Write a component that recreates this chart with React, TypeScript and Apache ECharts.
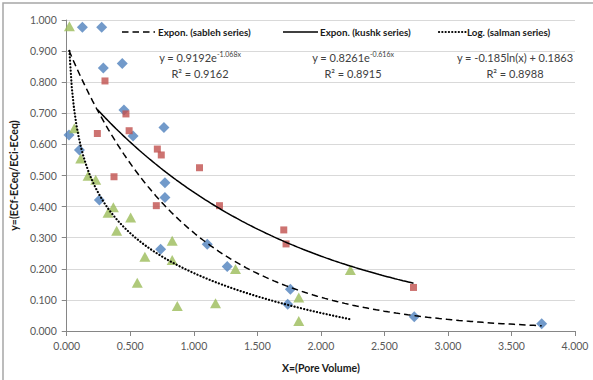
import React, { useEffect, useRef } from "react";
import * as echarts from "echarts";

// sableh series (blue diamonds)
const sablehX = [0.018, 0.1, 0.123, 0.275, 0.288, 0.437, 0.45, 0.522, 0.765, 0.773, 0.773, 0.257, 0.739, 1.106, 1.263, 1.76, 1.739, 2.735, 3.738];
const sablehY = [0.63, 0.582, 0.977, 0.977, 0.846, 0.86, 0.711, 0.627, 0.654, 0.477, 0.429, 0.421, 0.263, 0.279, 0.207, 0.134, 0.086, 0.046, 0.023];

// kushk series (red squares)
const kushkX = [0.241, 0.301, 0.372, 0.466, 0.491, 0.705, 0.713, 0.744, 1.045, 1.202, 1.708, 1.726, 2.729];
const kushkY = [0.635, 0.804, 0.496, 0.698, 0.644, 0.403, 0.585, 0.566, 0.525, 0.403, 0.325, 0.28, 0.14];

// salman series (green triangles)
const salmanX = [0.021, 0.06, 0.11, 0.168, 0.228, 0.325, 0.367, 0.393, 0.503, 0.555, 0.615, 0.83, 0.83, 0.87, 1.171, 1.328, 1.826, 1.826, 2.232];
const salmanY = [0.98, 0.652, 0.555, 0.499, 0.486, 0.38, 0.398, 0.322, 0.365, 0.155, 0.239, 0.29, 0.228, 0.08, 0.089, 0.199, 0.108, 0.032, 0.196];

// trendline coefficients (as printed on the chart)
const sablehFit = { a: 0.9192, b: -1.068 }; // y = a e^(b x)
const kushkFit = { a: 0.8261, b: -0.616 }; // y = a e^(b x)
const salmanFit = { a: -0.185, b: 0.1863 }; // y = a ln(x) + b

const legendNames = ["Expon. (sableh series)", "Expon. (kushk series)", "Log. (salman series)"];
const eqTexts = [
  { main: "y = 0.9192e", sup: "-1.068x", r2: "R² = 0.9162" },
  { main: "y = 0.8261e", sup: "-0.616x", r2: "R² = 0.8915" },
  { main: "y = -0.185ln(x) + 0.1863", sup: "", r2: "R² = 0.8988" },
];

const FONT = "Lato, 'Open Sans', sans-serif";

function curve(xs: number[], f: (x: number) => number) {
  const lo = Math.min(...xs);
  const hi = Math.max(...xs);
  const n = 120;
  const out: number[][] = [];
  for (let i = 0; i <= n; i++) {
    const x = lo + ((hi - lo) * i) / n;
    out.push([x, f(x)]);
  }
  return out;
}

function pairs(xs: number[], ys: number[]) {
  return xs.map((x, i) => [x, ys[i]]);
}

const DASH = [6.5, 4];
const DOT = [0.1, 3.2];

export default function App() {
  const ref = useRef<HTMLDivElement>(null);
  useEffect(() => {
    document.body.style.margin = "0";
    const chart = echarts.init(ref.current!, null, { renderer: "svg" });
    const labelStyle = { color: "#595959", fontSize: 10.5, fontFamily: FONT };
    const eqCenters = [200, 353, 515];
    const graphics: any[] = [
      {
        type: "polyline",
        shape: { points: [[3, 380], [3, 3], [593, 3]] },
        style: { stroke: "#a6a6a6", lineWidth: 1.5, fill: "none" },
        silent: true,
      },
    ];
    // legend drawn as line samples + real text
    const legendItems = [
      { x1: 122, x2: 155, dash: DASH, width: 1.5, cap: "butt", tx: 158 },
      { x1: 283, x2: 318, dash: null, width: 1.5, cap: "butt", tx: 320 },
      { x1: 439, x2: 466, dash: DOT, width: 2.2, cap: "round", tx: 467 },
    ];
    legendItems.forEach((it, i) => {
      graphics.push({
        type: "line",
        shape: { x1: it.x1, y1: 32, x2: it.x2, y2: 32 },
        style: { stroke: "#000", lineWidth: it.width, lineDash: it.dash || undefined, lineCap: it.cap },
        silent: true,
        z: 100,
      });
      graphics.push({
        type: "text",
        x: it.tx,
        y: 32,
        style: {
          text: legendNames[i],
          align: "left",
          verticalAlign: "middle",
          fontSize: 9.8,
          fontWeight: "bold",
          fontFamily: FONT,
          fill: "#1a1a1a",
        },
        z: 100,
      });
    });
    eqTexts.forEach((t, i) => {
      graphics.push({
        type: "text",
        x: eqCenters[i],
        y: 57,
        style: {
          text: t.sup ? `{a|${t.main}}{s|${t.sup}}` : `{a|${t.main}}`,
          align: "center",
          verticalAlign: "middle",
          rich: {
            a: { fontSize: 11, fontFamily: FONT, fill: "#404040", lineHeight: 14 },
            s: { fontSize: 7, fontFamily: FONT, fill: "#404040", verticalAlign: "top", lineHeight: 14 },
          },
        },
        z: 100,
      });
      graphics.push({
        type: "text",
        x: eqCenters[i],
        y: 73,
        style: {
          text: t.r2,
          align: "center",
          verticalAlign: "middle",
          fontSize: 11,
          fontFamily: FONT,
          fill: "#404040",
        },
        z: 100,
      });
    });

    chart.setOption({
      animation: false,
      backgroundColor: "#ffffff",
      grid: { left: 66, top: 20, width: 509, height: 311 },
      xAxis: {
        type: "value",
        min: 0,
        max: 4,
        interval: 0.5,
        name: "X=(Pore Volume)",
        nameLocation: "middle",
        nameGap: 31,
        nameTextStyle: { color: "#1a1a1a", fontSize: 10.5, fontWeight: "bold", fontFamily: FONT },
        axisLine: { show: true, lineStyle: { color: "#868686", width: 1 } },
        axisTick: { show: true, length: 5, lineStyle: { color: "#868686" } },
        axisLabel: { ...labelStyle, margin: 9, formatter: (v: number) => v.toFixed(3) },
        splitLine: { show: false },
      },
      yAxis: {
        type: "value",
        min: 0,
        max: 1,
        interval: 0.1,
        name: "y=(ECf-ECeq/ECi-ECeq)",
        nameLocation: "middle",
        nameGap: 46,
        nameTextStyle: { color: "#1a1a1a", fontSize: 10.5, fontWeight: "bold", fontFamily: FONT },
        axisLine: { show: true, lineStyle: { color: "#868686", width: 1 } },
        axisTick: { show: true, length: 5, lineStyle: { color: "#868686" } },
        axisLabel: { ...labelStyle, margin: 10, formatter: (v: number) => v.toFixed(3) },
        splitLine: { show: true, lineStyle: { color: "#d9d9d9", width: 1 } },
      },
      series: [
        {
          type: "scatter",
          name: "sableh series",
          data: pairs(sablehX, sablehY),
          symbol: "diamond",
          symbolSize: [11, 11],
          itemStyle: { color: "#4F81BD" },
          z: 2,
        },
        {
          type: "scatter",
          name: "kushk series",
          data: pairs(kushkX, kushkY),
          symbol: "rect",
          symbolSize: 7,
          itemStyle: { color: "#C0504D" },
          z: 2,
        },
        {
          type: "scatter",
          name: "salman series",
          data: pairs(salmanX, salmanY),
          symbol: "triangle",
          symbolSize: [11, 10],
          itemStyle: { color: "#9BBB59" },
          z: 2,
        },
        {
          type: "line",
          name: legendNames[0],
          data: curve(sablehX, (x) => sablehFit.a * Math.exp(sablehFit.b * x)),
          showSymbol: false,
          symbol: "none",
          lineStyle: { color: "#000", width: 1.5, type: DASH },
          z: 5,
          silent: true,
        },
        {
          type: "line",
          name: legendNames[1],
          data: curve(kushkX, (x) => kushkFit.a * Math.exp(kushkFit.b * x)),
          showSymbol: false,
          symbol: "none",
          lineStyle: { color: "#000", width: 1.5, type: "solid" },
          z: 5,
          silent: true,
        },
        {
          type: "line",
          name: legendNames[2],
          data: curve(salmanX, (x) => salmanFit.a * Math.log(x) + salmanFit.b),
          showSymbol: false,
          symbol: "none",
          lineStyle: { color: "#000", width: 2.2, type: DOT, cap: "round" },
          z: 5,
          silent: true,
        },
      ],
      graphic: graphics,
    });
    return () => chart.dispose();
  }, []);
  return <div ref={ref} style={{ width: 593, height: 380 }} />;
}
